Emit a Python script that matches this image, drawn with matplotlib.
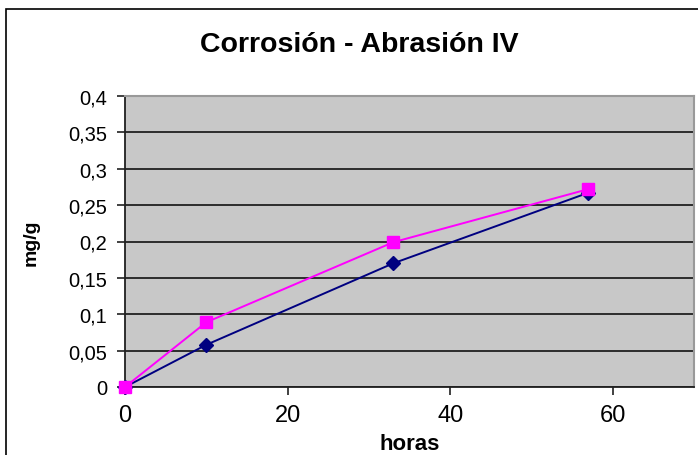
import matplotlib
matplotlib.use("Agg")
import matplotlib.pyplot as plt
from matplotlib.patches import Rectangle
from matplotlib.ticker import FuncFormatter

plt.rcParams['font.family'] = ['Liberation Sans', 'DejaVu Sans']

horas = [0, 10, 33, 57]
serie_azul = [0, 0.058, 0.170, 0.267]
serie_rosa = [0, 0.089, 0.199, 0.272]
x_ticks = [0, 20, 40, 60]
y_ticks = [0, 0.05, 0.1, 0.15, 0.2, 0.25, 0.3, 0.35, 0.4]

fig = plt.figure(figsize=(6.98, 4.56), dpi=100)
W, H = 698, 456
# marco del gráfico
fig.patches.append(Rectangle((6 / W, -0.1), 2, (H - 10) / H + 0.1,
                             transform=fig.transFigure, fill=False,
                             edgecolor='black', linewidth=1.2))

x0, x1, y0, y1 = 125, 694, 388, 97  # area de trazado en px
ax = fig.add_axes([x0 / W, 1 - y0 / H, (x1 - x0) / W, (y0 - y1) / H])
ax.set_facecolor('#c8c8c8')
ax.set_xlim(0, 70)
ax.set_ylim(0, 0.4)
ax.set_xticks(x_ticks)
ax.set_yticks(y_ticks)
ax.yaxis.set_major_formatter(FuncFormatter(lambda v, p: ('%g' % v).replace('.', ',')))
ax.grid(axis='y', color='#202020', linewidth=1.3)
ax.set_axisbelow(True)
for s in ['top', 'right']:
    ax.spines[s].set_color('#999999')
    ax.spines[s].set_linewidth(1.5)
for s in ['left', 'bottom']:
    ax.spines[s].set_color('#202020')
    ax.spines[s].set_linewidth(1.3)
ax.tick_params(direction='out', length=6, width=1.2, color='#202020')
ax.tick_params(axis='y', labelsize=14.5, pad=7)
ax.tick_params(axis='x', labelsize=17, pad=6)

ax.plot(horas, serie_azul, color='#000080', marker='D', markersize=7, linewidth=1.4, clip_on=False, zorder=3)
ax.plot(horas, serie_rosa, color='#ff00ff', marker='s', markersize=8.5, linewidth=1.4, clip_on=False, zorder=4)

ax.set_xlabel('horas', fontsize=16, fontweight='bold', va='baseline')
ax.xaxis.set_label_coords((410 - x0) / (x1 - x0), (y0 - 450) / (y0 - y1))
ax.set_ylabel('mg/g', fontsize=14, fontweight='bold', va='center')
ax.yaxis.set_label_coords((31 - x0) / (x1 - x0), (y0 - 243) / (y0 - y1))
fig.text(359 / W, 1 - 52 / H, 'Corrosión - Abrasión IV', ha='center', va='baseline',
         fontsize=20.5, fontweight='bold')

fig.savefig('out.png', dpi=100)
